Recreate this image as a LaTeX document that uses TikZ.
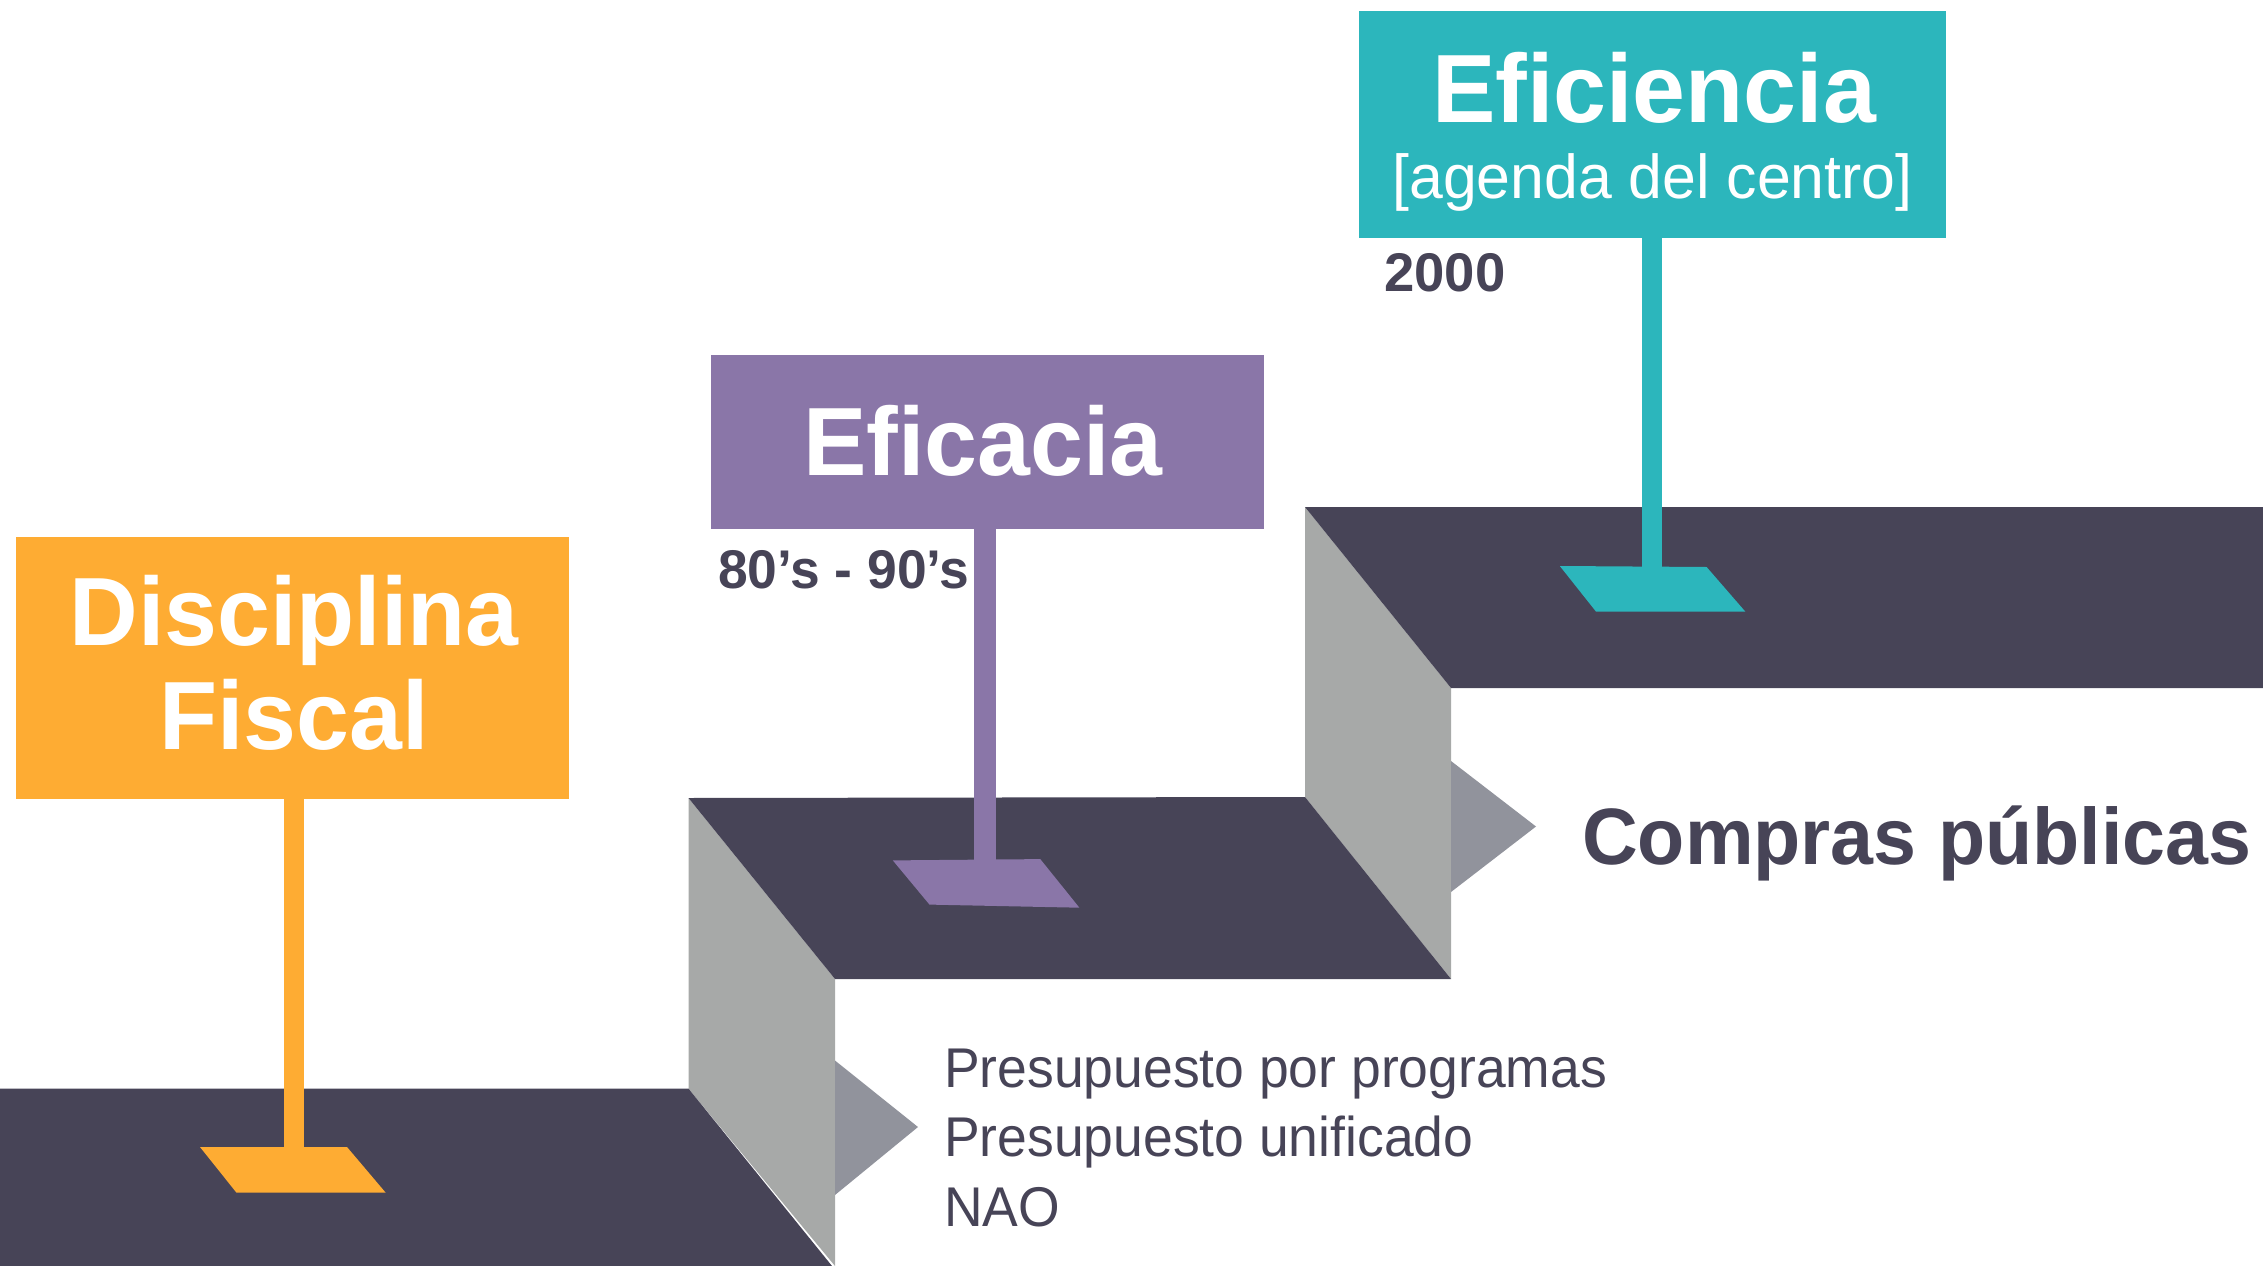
\documentclass[tikz,border=0pt]{standalone}
\usepackage{fontspec}
\setmainfont{Liberation Sans}
\usepackage{graphicx}
\definecolor{cOrange}{HTML}{FEAC33}
\definecolor{cPurple}{HTML}{8A76A8}
\definecolor{cTeal}{HTML}{2CB6BC}
\definecolor{cDark}{HTML}{474457}
\definecolor{cWall}{HTML}{A7A9A8}
\definecolor{cTri}{HTML}{91939C}
\tikzset{
  floorpart/.style={fill=cDark},
  wallpart/.style={fill=cWall},
  tripart/.style={fill=cTri},
  signbox/.style={draw=none, inner sep=0pt, anchor=north west},
  bigtitle/.style={text=white, inner sep=0pt, anchor=base, font=\bfseries\fontsize{97}{97}\selectfont},
  subtitle/.style={text=white, inner sep=0pt, anchor=base, font=\fontsize{62}{62}\selectfont},
  yearlbl/.style={text=cDark, inner sep=0pt, anchor=base west, font=\bfseries\fontsize{54.5}{54.5}\selectfont},
  itemlbl/.style={text=cDark, inner sep=0pt, anchor=base west, font=\fontsize{56}{56}\selectfont},
  headlbl/.style={text=cDark, inner sep=0pt, anchor=base west, font=\bfseries\fontsize{80}{80}\selectfont},
}
\begin{document}
\begin{tikzpicture}[x=1pt,y=-1pt]
\useasboundingbox (0,0) rectangle (2263,1266);
% steps
\fill[wallpart] (1305,507) -- (1451,688) -- (1451,979) -- (1305,797) -- cycle;
\fill[floorpart] (1305,507) -- (2263,507) -- (2263,688) -- (1451,688) -- cycle;
\fill[wallpart] (688.5,798) -- (835,979) -- (835,1266) -- (688.5,1088.6) -- cycle;
\fill[floorpart] (688.5,798) -- (1305,797) -- (1451,979) -- (835,979) -- cycle;
\fill[floorpart] (0,1088.6) -- (688.5,1088.6) -- (832,1266) -- (0,1266) -- cycle;
\fill[tripart] (1451,761) -- (1536,826.5) -- (1451,892) -- cycle;
\fill[tripart] (835,1060.5) -- (918,1127) -- (835,1195) -- cycle;
% orange sign
\node[signbox, fill=cOrange, minimum width=553pt, minimum height=262pt] (b1) at (16,536.6) {};
\fill[cOrange] (283.6,797) rectangle (304.2,1148);
\fill[cOrange] (200,1147) -- (347,1147) -- (385.7,1192.7) -- (236.5,1192.7) -- cycle;
\node[bigtitle] (t1a) at (294,645) {\scalebox{0.98}[1]{Disciplina}};
\node[bigtitle] (t1b) at (294,749) {\scalebox{0.98}[1]{Fiscal}};
% purple sign
\node[signbox, fill=cPurple, minimum width=553.3pt, minimum height=173.4pt] (b2) at (710.3,355.2) {};
\fill[cPurple] (974.3,527) rectangle (996.1,861);
\fill[cPurple] (892.8,860.4) -- (1040.3,859.1) -- (1079.4,907.7) -- (929.5,904.6) -- cycle;
\node[bigtitle] (t2) at (983,475.3) {\scalebox{0.98}[1]{Eficacia}};
\node[yearlbl] (y2) at (718,588) {\scalebox{0.98}[1]{80’s - 90’s}};
% teal sign
\node[signbox, fill=cTeal, minimum width=587.8pt, minimum height=226.7pt] (b3) at (1358.3,11.2) {};
\fill[cTeal] (1641.5,236.5) rectangle (1662.4,568);
\fill[cTeal] (1559.8,566) -- (1706.6,567) -- (1745.3,611.6) -- (1596,611.6) -- cycle;
\node[bigtitle] (t3) at (1654,122.8) {\scalebox{0.98}[1]{Eficiencia}};
\node[subtitle] (t3b) at (1652.5,198) {\scalebox{0.98}[1]{[agenda del centro]}};
\node[yearlbl] (y3) at (1384,291) {2000};
% side labels
\node[headlbl] (cp) at (1582,864) {\scalebox{0.965}[1]{Compras públicas}};
\node[itemlbl] (l1) at (944,1087) {\scalebox{0.955}[1]{Presupuesto por programas}};
\node[itemlbl] (l2) at (944,1156) {\scalebox{0.955}[1]{Presupuesto unificado}};
\node[itemlbl] (l3) at (944,1226) {\scalebox{0.955}[1]{NAO}};
\end{tikzpicture}
\end{document}
